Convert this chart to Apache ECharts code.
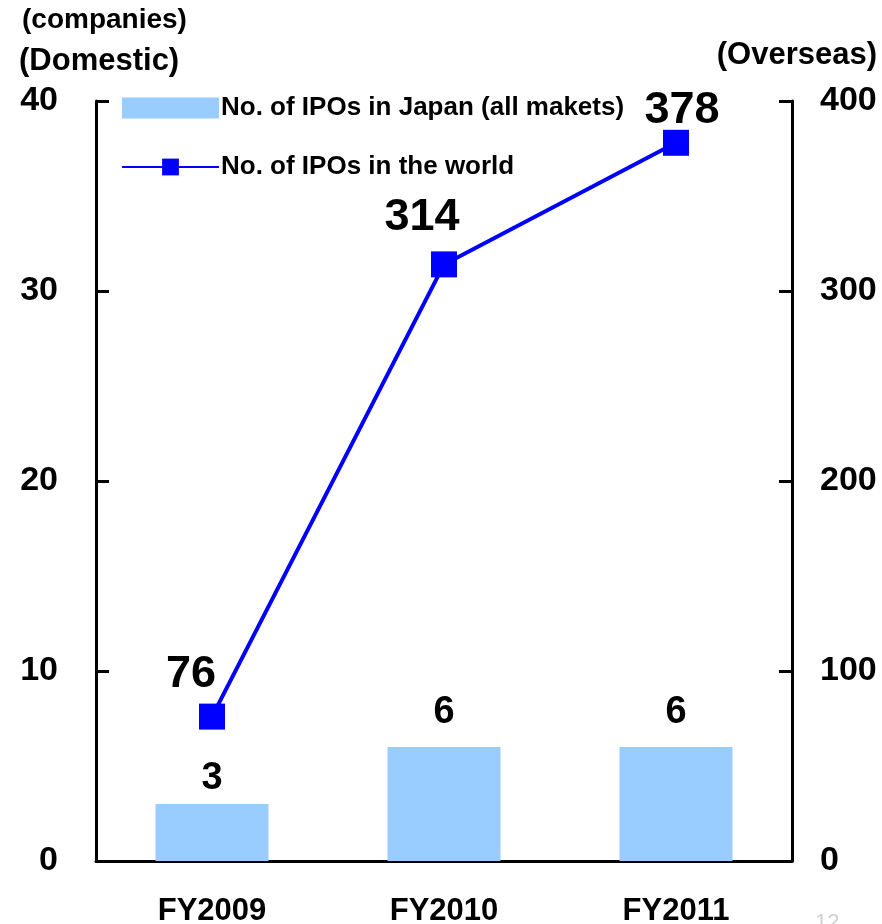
<!DOCTYPE html>
<html>
<head>
<meta charset="utf-8">
<script src="https://cdn.jsdelivr.net/npm/echarts@6/dist/echarts.min.js"></script>
<style>
  html, body { margin: 0; padding: 0; background: #fff; }
  #chart { width: 882px; height: 924px; }
</style>
</head>
<body>
<div id="chart"></div>
<script>
// Fiscal years on the category axis
const years = ['FY2009', 'FY2010', 'FY2011'];
// IPOs in Japan (left axis, companies)
const japanIPOs = [3, 6, 6];
// IPOs worldwide (right axis, companies)
const worldIPOs = [76, 314, 378];
// Axis tick steps
const domesticTicks = { min: 0, max: 40, interval: 10 };
const overseasTicks = { min: 0, max: 400, interval: 100 };

const FONT = 'Arial, "Liberation Sans", sans-serif';

// per-point nudges for the value labels
const worldLabelOffsets = [[-21, -42], [-22, -47], [6, -32]];
const japanLabelDistances = [6, 15, 15];

const chart = echarts.init(document.getElementById('chart'));

const axisLine = { show: true, lineStyle: { color: '#000', width: 3 } };
const axisTick = { show: true, inside: true, length: 13, lineStyle: { color: '#000', width: 3 } };

chart.setOption({
  animation: false,
  backgroundColor: '#fff',
  grid: { left: 96, right: 90, top: 101, bottom: 63, outerBoundsMode: 'none', containLabel: false },
  legend: {
    orient: 'vertical',
    left: 116,
    top: 90,
    itemWidth: 97,
    itemHeight: 21,
    itemGap: 33,
    textStyle: { fontFamily: FONT, fontWeight: 'bold', fontSize: 26, color: '#000', padding: [0, 0, 0, -3] },
    data: [
      { name: 'No. of IPOs in Japan (all makets)', icon: 'rect' },
      { name: 'No. of IPOs in the world' }
    ]
  },
  xAxis: {
    type: 'category',
    data: years,
    axisLine: axisLine,
    axisTick: { show: false },
    axisLabel: { fontFamily: FONT, fontWeight: 'bold', fontSize: 31, color: '#000', margin: 35 }
  },
  yAxis: [
    {
      type: 'value',
      position: 'left',
      min: domesticTicks.min, max: domesticTicks.max, interval: domesticTicks.interval,
      splitLine: { show: false },
      axisLine: axisLine,
      axisTick: axisTick,
      axisLabel: { fontFamily: FONT, fontWeight: 'bold', fontSize: 34, color: '#000', margin: 38 }
    },
    {
      type: 'value',
      position: 'right',
      min: overseasTicks.min, max: overseasTicks.max, interval: overseasTicks.interval,
      splitLine: { show: false },
      axisLine: axisLine,
      axisTick: axisTick,
      axisLabel: { fontFamily: FONT, fontWeight: 'bold', fontSize: 34, color: '#000', margin: 28 }
    }
  ],
  series: [
    {
      name: 'No. of IPOs in Japan (all makets)',
      type: 'bar',
      yAxisIndex: 0,
      barWidth: 113,
      itemStyle: { color: '#99CCFF' },
      data: japanIPOs.map((v, i) => ({
        value: v,
        label: {
          show: true,
          position: 'top',
          distance: japanLabelDistances[i],
          fontFamily: FONT,
          fontWeight: 'bold',
          fontSize: 38,
          color: '#000'
        }
      }))
    },
    {
      name: 'No. of IPOs in the world',
      type: 'line',
      yAxisIndex: 1,
      symbol: 'rect',
      symbolSize: 26,
      lineStyle: { color: '#0000FF', width: 4 },
      itemStyle: { color: '#0000FF' },
      z: 5,
      data: worldIPOs.map((v, i) => ({
        value: v,
        label: {
          show: true,
          position: 'inside',
          offset: worldLabelOffsets[i],
          fontFamily: FONT,
          fontWeight: 'bold',
          fontSize: 45,
          color: '#000'
        }
      }))
    }
  ],
  graphic: [
    { type: 'text', left: 22, top: 6, style: { text: '(companies)', font: 'bold 28px ' + FONT, fill: '#000' } },
    { type: 'text', left: 19, top: 46, style: { text: '(Domestic)', font: 'bold 31px ' + FONT, fill: '#000' } },
    { type: 'text', right: 5, top: 40, style: { text: '(Overseas)', font: 'bold 31px ' + FONT, fill: '#000' } },
    { type: 'text', left: 815, top: 912, style: { text: '12', font: '22px ' + FONT, fill: '#d0d0d0' } }
  ]
});
</script>
</body>
</html>
